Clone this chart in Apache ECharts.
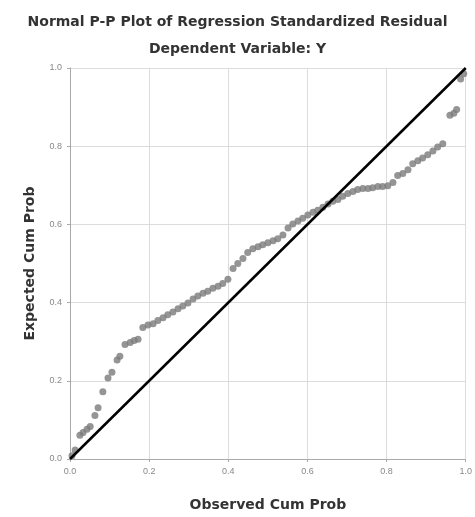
<!DOCTYPE html>
<html>
<head>
<meta charset="utf-8">
<script src="https://cdn.jsdelivr.net/npm/echarts@6/dist/echarts.min.js"></script>
<style>
  html, body { margin: 0; padding: 0; background: #fff; }
  #container { width: 475px; height: 517px; }
</style>
</head>
<body>
<div id="container"></div>
<script>
// observed cum prob (x) / expected cum prob (y)
var observed = [
    0.005, 0.013, 0.025, 0.033, 0.043, 0.051, 0.063, 0.071, 0.083, 0.096,
    0.106, 0.119, 0.126, 0.139, 0.152, 0.162, 0.172, 0.184, 0.197, 0.210,
    0.222, 0.235, 0.247, 0.260, 0.273, 0.285, 0.298, 0.311, 0.323, 0.336,
    0.348, 0.361, 0.374, 0.386, 0.399, 0.412, 0.424, 0.437, 0.449, 0.462,
    0.475, 0.487, 0.500, 0.513, 0.525, 0.538, 0.551, 0.563, 0.576, 0.588,
    0.601, 0.614, 0.626, 0.639, 0.652, 0.664, 0.677, 0.689, 0.702, 0.715,
    0.727, 0.740, 0.753, 0.765, 0.778, 0.790, 0.803, 0.816, 0.828, 0.841,
    0.854, 0.866, 0.879, 0.891, 0.904, 0.917, 0.929, 0.942, 0.960, 0.970,
    0.977, 0.987, 0.995
];
var expected = [
    0.008, 0.023, 0.061, 0.068, 0.076, 0.083, 0.111, 0.131, 0.172, 0.207,
    0.222, 0.253, 0.263, 0.293, 0.298, 0.303, 0.306, 0.336, 0.343, 0.346,
    0.354, 0.361, 0.369, 0.376, 0.384, 0.391, 0.399, 0.409, 0.417, 0.424,
    0.429, 0.437, 0.442, 0.449, 0.460, 0.487, 0.500, 0.513, 0.528, 0.538,
    0.543, 0.548, 0.553, 0.558, 0.563, 0.573, 0.591, 0.601, 0.609, 0.616,
    0.624, 0.631, 0.636, 0.644, 0.652, 0.659, 0.664, 0.672, 0.679, 0.684,
    0.689, 0.692, 0.692, 0.694, 0.697, 0.697, 0.699, 0.707, 0.725, 0.730,
    0.740, 0.755, 0.763, 0.770, 0.778, 0.788, 0.798, 0.806, 0.879, 0.884,
    0.894, 0.972, 0.985
];
var refLine = [[0, 0], [1, 1]];

var FONT = "'Liberation Sans', Arial, sans-serif";
var BOLD_FONT = "'DejaVu Sans', sans-serif";

function onLoad()
{
    var dom = document.getElementById("container");
    var myChart = echarts.init(dom);
    var option = getOption();
    myChart.setOption(option, true);
}

function getOption()
{
    var points = [];
    for (let i = 0; i < observed.length; i++) {
        points.push([observed[i], expected[i]]);
    }

    var axisCommon = {
        type: 'value',
        min: 0,
        max: 1,
        interval: 0.2,
        nameLocation: 'middle',
        nameTextStyle: { fontFamily: BOLD_FONT, fontSize: 14, fontWeight: 'bold', color: '#333' },
        axisLine: { show: true, lineStyle: { color: '#aaa', width: 1 } },
        axisTick: { show: true, length: 3, lineStyle: { color: '#aaa' } },
        axisLabel: {
            fontFamily: FONT, fontSize: 9, color: '#888',
            formatter: function (v) { return v.toFixed(1); }
        },
        splitLine: { show: true, lineStyle: { color: '#dcdcdc', width: 1 } }
    };

    return {
        animation: false,
        backgroundColor: '#fff',
        title: [{
            text: 'Normal P-P Plot of Regression Standardized Residual',
            left: 'center',
            top: 10,
            textStyle: { fontFamily: BOLD_FONT, fontSize: 14, fontWeight: 'bold', color: '#333' }
        }, {
            text: 'Dependent Variable: Y',
            left: 'center',
            top: 37,
            textStyle: { fontFamily: BOLD_FONT, fontSize: 14, fontWeight: 'bold', color: '#333' }
        }],
        grid: { left: 70, right: 9, top: 68, bottom: 53, containLabel: false },
        xAxis: Object.assign({}, axisCommon, { name: 'Observed Cum Prob', nameGap: 39 }),
        yAxis: Object.assign({}, axisCommon, { name: 'Expected Cum Prob', nameGap: 33 }),
        series: [{
            type: 'scatter',
            data: points,
            symbolSize: 7,
            itemStyle: { color: '#7a7a7a' }
        }, {
            type: 'line',
            data: refLine,
            symbol: 'none',
            lineStyle: { color: '#000', width: 2.5 },
            z: 3
        }]
    };
}

onLoad();
</script>
</body>
</html>
